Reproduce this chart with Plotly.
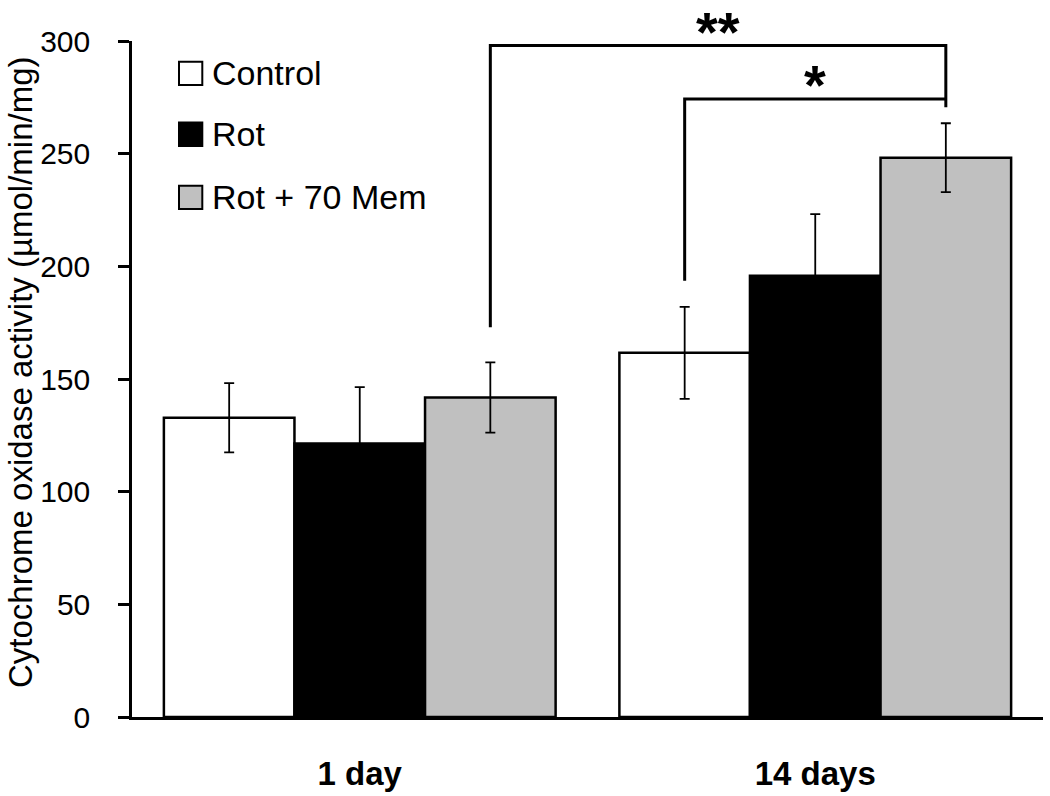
import plotly.graph_objects as go

# ---------------- data ----------------
categories = ["1 day", "14 days"]
series_names = ["Control", "Rot", "Rot + 70 Mem"]
control_vals = [132.8, 161.6]
control_err = [15.4, 20.4]
rot_vals = [121.4, 195.8]
rot_err = [25.0, 27.4]
mem_vals = [141.8, 248.2]
mem_err = [15.6, 15.3]
y_ticks = [0, 50, 100, 150, 200, 250, 300]
y_title = "Cytochrome oxidase activity (µmol/min/mg)"

# significance brackets: (group, series) of left end, (group, series) of right end,
# top level, bottom of left leg, bottom of right leg, label
sig_left = [(0, 2), (1, 0)]
sig_right = [(1, 2), (1, 2)]
sig_top = [298.0, 274.3]
sig_left_bottom = [173.0, 193.6]
sig_right_bottom = [270.6, 274.3]
sig_labels = ["**", "*"]

# ---------------- styling ----------------
FONT = "Liberation Sans, Arial, sans-serif"
colors = ["#ffffff", "#000000", "#c0c0c0"]
BARGAP = 0.14
bar_w = (1 - BARGAP) / 3

W, H = 1050, 796
ML, MR, MT, MB = 132, 7, 41, 79
PW, PH = W - ML - MR, H - MT - MB

def px_to_paper_x(px):
    return (px - ML) / PW

def px_to_paper_y(py):
    return (H - MB - py) / PH

fig = go.Figure()
vals = [control_vals, rot_vals, mem_vals]
errs = [control_err, rot_err, mem_err]
xidx = list(range(len(categories)))
for name, v, e, c in zip(series_names, vals, errs, colors):
    fig.add_trace(go.Bar(
        x=xidx, y=v, name=name,
        marker=dict(color=c, line=dict(color="black", width=2.5)),
        error_y=dict(type="data", array=e, visible=True, color="black",
                     thickness=1.8, width=5),
        showlegend=False,
    ))

def bar_center(g, s):
    return g + (s - 1) * bar_w

annotations = []
for (gl, sl), (gr, sr), top, lb, rb, lab in zip(sig_left, sig_right, sig_top,
                                                  sig_left_bottom, sig_right_bottom, sig_labels):
    xl, xr = bar_center(gl, sl), bar_center(gr, sr)
    fig.add_trace(go.Scatter(
        x=[xl, xl, xr, xr], y=[lb, top, top, rb], mode="lines",
        line=dict(color="black", width=3), showlegend=False, hoverinfo="skip",
        cliponaxis=False,
    ))
    annotations.append(dict(
        x=(xl + xr) / 2, y=top, xref="x", yref="y", text=lab, showarrow=False,
        yanchor="middle", yshift=14,
        font=dict(family=FONT, size=56, color="black", weight="bold"),
    ))

# manual legend
shapes = []
legend_box_top = [61.7, 122.6, 185.7]
box_size = 23.3
for name, c, top in zip(series_names, colors, legend_box_top):
    shapes.append(dict(
        type="rect", xref="paper", yref="paper",
        x0=px_to_paper_x(179), x1=px_to_paper_x(179 + box_size),
        y0=px_to_paper_y(top + box_size), y1=px_to_paper_y(top),
        fillcolor=c, line=dict(color="black", width=2),
    ))
    annotations.append(dict(
        x=px_to_paper_x(210), y=px_to_paper_y(top + box_size / 2),
        xref="paper", yref="paper", text=name, showarrow=False,
        xanchor="left", yanchor="middle",
        font=dict(family=FONT, size=34, color="black"),
    ))

# y-axis title (rotated)
annotations.append(dict(
    x=px_to_paper_x(20), y=px_to_paper_y(372), xref="paper", yref="paper",
    text=y_title, showarrow=False, textangle=-90,
    xanchor="center", yanchor="middle",
    font=dict(family=FONT, size=33, color="black"),
))

fig.update_layout(
    width=W, height=H,
    margin=dict(l=ML, r=MR, t=MT, b=MB, autoexpand=False),
    paper_bgcolor="white", plot_bgcolor="white",
    barmode="group", bargap=BARGAP, bargroupgap=0,
    font=dict(family=FONT, color="black"),
    annotations=annotations, shapes=shapes,
    xaxis=dict(
        range=[-0.5, 1.5], tickvals=xidx, ticktext=categories,
        showline=True, linecolor="black", linewidth=2.5,
        ticks="", showgrid=False, zeroline=False,
        tickfont=dict(family=FONT, size=33, color="black", weight="bold"),
        ticklabelstandoff=26,
    ),
    yaxis=dict(
        range=[0, 300], tickvals=y_ticks,
        showline=True, linecolor="black", linewidth=2.5,
        ticks="outside", ticklen=11, tickwidth=2.5, tickcolor="black",
        showgrid=False, zeroline=False,
        tickfont=dict(family=FONT, size=30, color="black"),
        ticklabelposition="outside", ticklabelstandoff=22,
    ),
)

fig.write_html("out.html", config={"displayModeBar": False},
               post_script="document.body.style.margin='0';document.body.style.padding='0';")
